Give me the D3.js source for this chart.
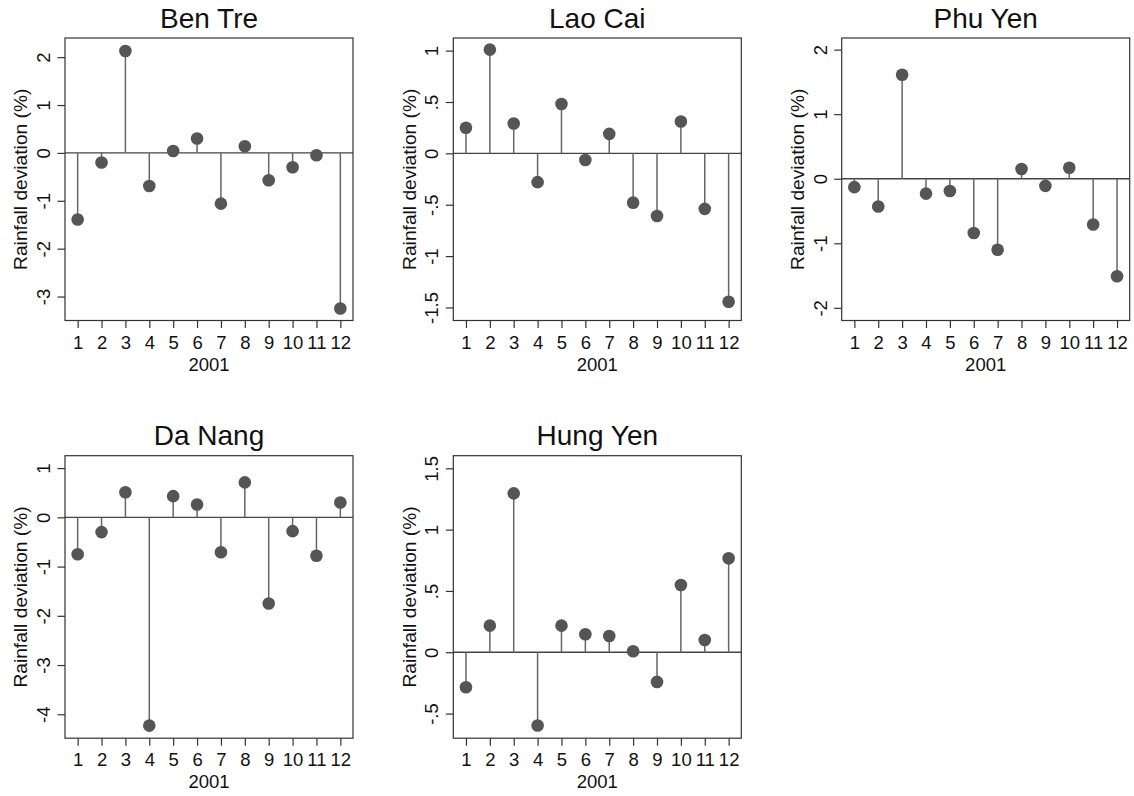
<!DOCTYPE html>
<html>
<head>
<meta charset="utf-8">
<script src="https://cdn.jsdelivr.net/npm/d3@7"></script>
<style>
  body { margin: 0; background: #fff; }
  svg text { font-family: "Liberation Sans", Arial, Helvetica, sans-serif; fill: #111; }
</style>
</head>
<body>
<svg id="drawing_region"></svg>
<script>
// データ
const months = [1, 2, 3, 4, 5, 6, 7, 8, 9, 10, 11, 12];
const yearLabel = '2001';
const yLabel = 'Rainfall deviation (%)';

const benTre  = [-1.39, -0.20, 2.13, -0.69, 0.04, 0.30, -1.06, 0.14, -0.57, -0.30, -0.05, -3.25];
const laoCai  = [0.25, 1.01, 0.29, -0.28, 0.48, -0.065, 0.19, -0.48, -0.61, 0.31, -0.54, -1.445];
const phuYen  = [-0.13, -0.43, 1.61, -0.23, -0.19, -0.84, -1.10, 0.15, -0.11, 0.17, -0.71, -1.51];
const daNang  = [-0.75, -0.30, 0.51, -4.23, 0.43, 0.26, -0.71, 0.71, -1.75, -0.28, -0.78, 0.30];
const hungYen = [-0.285, 0.217, 1.296, -0.598, 0.217, 0.147, 0.133, 0.008, -0.242, 0.549, 0.10, 0.766];

const benTreTicks  = [-3, -2, -1, 0, 1, 2];
const laoCaiTicks  = [-1.5, -1, -0.5, 0, 0.5, 1];
const phuYenTicks  = [-2, -1, 0, 1, 2];
const daNangTicks  = [-4, -3, -2, -1, 0, 1];
const hungYenTicks = [-0.5, 0, 0.5, 1, 1.5];

const panels = [
    {title: 'Ben Tre',  values: benTre,  ticks: benTreTicks,  domain: [-3.5, 2.4],    col: 0, row: 0},
    {title: 'Lao Cai',  values: laoCai,  ticks: laoCaiTicks,  domain: [-1.627, 1.123], col: 1, row: 0},
    {title: 'Phu Yen',  values: phuYen,  ticks: phuYenTicks,  domain: [-2.196, 2.18],  col: 2, row: 0},
    {title: 'Da Nang',  values: daNang,  ticks: daNangTicks,  domain: [-4.486, 1.252], col: 0, row: 1},
    {title: 'Hung Yen', values: hungYen, ticks: hungYenTicks, domain: [-0.701, 1.603], col: 1, row: 1}
];

const W = 1134, H = 796;
const plotW = 288, plotH = 282.5;
const colX = [65, 453.3, 841.7];
const rowY = [38, 455.7];

const svg = d3.select('#drawing_region')
    .attr('width', W)
    .attr('height', H);

// 数値ラベル (Stata風: 0.5 -> .5)
const fmt = v => String(v).replace(/^0\./, '.').replace(/^-0\./, '-.');

panels.forEach(p => {
    const g = svg.append('g')
        .attr('transform', `translate(${colX[p.col]}, ${rowY[p.row]})`);

    const xscale = d3.scaleLinear()
        .domain([0.47, 12.53])
        .range([0, plotW]);
    const yscale = d3.scaleLinear()
        .domain(p.domain)
        .range([plotH, 0]);

    // タイトル
    g.append('text')
        .attr('x', plotW / 2)
        .attr('y', -10.5)
        .attr('text-anchor', 'middle')
        .attr('font-size', 28)
        .text(p.title);

    // y軸
    const yaxis = d3.axisLeft(yscale)
        .tickValues(p.ticks)
        .tickSize(7.5)
        .tickSizeOuter(0)
        .tickFormat(fmt);
    const yg = g.append('g').call(yaxis);
    yg.select('.domain').remove();
    yg.selectAll('line').attr('stroke', '#333').attr('stroke-width', 1.2);
    yg.selectAll('text')
        .attr('font-size', 18.5)
        .attr('fill', '#111')
        .attr('x', null)
        .attr('text-anchor', 'middle')
        .attr('transform', 'translate(-21.5, 0) rotate(-90)')
        .attr('dy', '0.36em');

    // x軸
    const xaxis = d3.axisBottom(xscale)
        .tickValues(months)
        .tickSize(7.5)
        .tickSizeOuter(0);
    const xg = g.append('g')
        .attr('transform', `translate(0, ${plotH})`)
        .call(xaxis);
    xg.select('.domain').remove();
    xg.selectAll('line').attr('stroke', '#333').attr('stroke-width', 1.2);
    xg.selectAll('text')
        .attr('font-size', 18.5)
        .attr('fill', '#111')
        .attr('dy', null)
        .attr('y', 28);

    g.append('text')
        .attr('x', plotW / 2)
        .attr('y', plotH + 50)
        .attr('text-anchor', 'middle')
        .attr('font-size', 18.5)
        .text(yearLabel);

    g.append('text')
        .attr('transform', `translate(${-44.5}, ${plotH / 2}) rotate(-90)`)
        .attr('text-anchor', 'middle')
        .attr('dy', '0.36em')
        .attr('font-size', 19.2)
        .text(yLabel);

    // ゼロ線
    g.append('line')
        .attr('x1', 0).attr('x2', plotW)
        .attr('y1', yscale(0)).attr('y2', yscale(0))
        .attr('stroke', '#444')
        .attr('stroke-width', 1.4);

    const data = months.map((m, i) => ({x: m, y: p.values[i]}));

    // 線
    g.append('g').selectAll('line')
        .data(data)
        .join('line')
        .attr('x1', d => xscale(d.x)).attr('x2', d => xscale(d.x))
        .attr('y1', yscale(0)).attr('y2', d => yscale(d.y))
        .attr('stroke', '#666')
        .attr('stroke-width', 1.5);

    // ドット
    g.append('g').selectAll('circle')
        .data(data)
        .join('circle')
        .attr('cx', d => xscale(d.x))
        .attr('cy', d => yscale(d.y))
        .attr('r', 6.3)
        .attr('fill', '#555');

    // 枠
    g.append('rect')
        .attr('width', plotW)
        .attr('height', plotH)
        .attr('fill', 'none')
        .attr('stroke', '#333')
        .attr('stroke-width', 1.2);
});
</script>
</body>
</html>
